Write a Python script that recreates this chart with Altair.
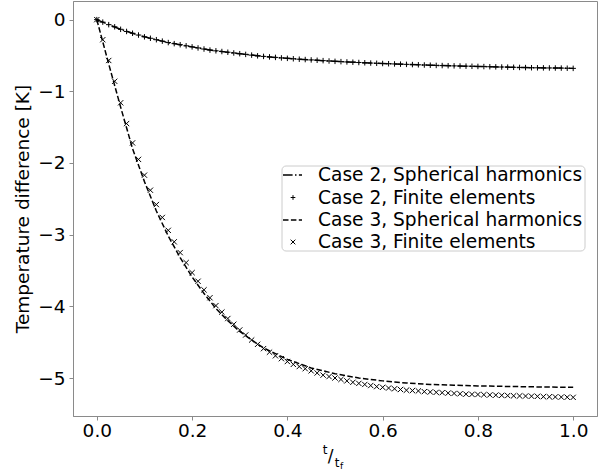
import altair as alt
import pandas as pd

# ---------------- data ----------------
t_fe = [0.0, 0.0125, 0.025, 0.0375, 0.05, 0.0625, 0.075, 0.0875, 0.1, 0.1125,
        0.125, 0.1375, 0.15, 0.1625, 0.175, 0.1875, 0.2, 0.2125, 0.225, 0.2375,
        0.25, 0.2625, 0.275, 0.2875, 0.3, 0.3125, 0.325, 0.3375, 0.35, 0.3625,
        0.375, 0.3875, 0.4, 0.4125, 0.425, 0.4375, 0.45, 0.4625, 0.475, 0.4875,
        0.5, 0.5125, 0.525, 0.5375, 0.55, 0.5625, 0.575, 0.5875, 0.6, 0.6125,
        0.625, 0.6375, 0.65, 0.6625, 0.675, 0.6875, 0.7, 0.7125, 0.725, 0.7375,
        0.75, 0.7625, 0.775, 0.7875, 0.8, 0.8125, 0.825, 0.8375, 0.85, 0.8625,
        0.875, 0.8875, 0.9, 0.9125, 0.925, 0.9375, 0.95, 0.9625, 0.975, 0.9875,
        1.0]

case2_fe = [0.0, -0.035, -0.07, -0.10, -0.135, -0.165, -0.19, -0.215, -0.24, -0.26,
            -0.28, -0.30, -0.32, -0.335, -0.35, -0.365, -0.38, -0.395, -0.41, -0.425,
            -0.435, -0.445, -0.455, -0.465, -0.475, -0.485, -0.495, -0.505, -0.513, -0.52,
            -0.527, -0.534, -0.54, -0.546, -0.552, -0.557, -0.562, -0.567, -0.572, -0.577,
            -0.582, -0.586, -0.59, -0.594, -0.598, -0.602, -0.606, -0.609, -0.612, -0.615,
            -0.618, -0.621, -0.624, -0.627, -0.63, -0.633, -0.636, -0.639, -0.641, -0.643,
            -0.645, -0.647, -0.649, -0.651, -0.653, -0.655, -0.657, -0.659, -0.661, -0.663,
            -0.665, -0.667, -0.669, -0.671, -0.672, -0.673, -0.674, -0.675, -0.676, -0.678,
            -0.68]

case3_fe = [0.0, -0.28, -0.57, -0.86, -1.16, -1.45, -1.72, -1.95, -2.17, -2.38,
            -2.58, -2.76, -2.94, -3.10, -3.25, -3.39, -3.53, -3.65, -3.77, -3.88,
            -3.99, -4.08, -4.17, -4.25, -4.33, -4.40, -4.47, -4.53, -4.59, -4.64,
            -4.69, -4.73, -4.77, -4.81, -4.84, -4.87, -4.90, -4.93, -4.96, -4.98,
            -5.00, -5.02, -5.04, -5.06, -5.075, -5.09, -5.105, -5.12, -5.13, -5.14,
            -5.15, -5.16, -5.17, -5.175, -5.18, -5.19, -5.195, -5.20, -5.205, -5.21,
            -5.215, -5.22, -5.225, -5.228, -5.23, -5.233, -5.236, -5.239, -5.242, -5.245,
            -5.248, -5.25, -5.252, -5.254, -5.256, -5.26, -5.262, -5.264, -5.266, -5.268,
            -5.27]

t_sh = [0.0, 0.025, 0.05, 0.075, 0.1, 0.125, 0.15, 0.175, 0.2, 0.225,
        0.25, 0.275, 0.3, 0.325, 0.35, 0.375, 0.4, 0.425, 0.45, 0.475,
        0.5, 0.525, 0.55, 0.575, 0.6, 0.625, 0.65, 0.675, 0.7, 0.725,
        0.75, 0.775, 0.8, 0.825, 0.85, 0.875, 0.9, 0.925, 0.95, 0.975,
        1.0]

case2_sh = [0.0, -0.07, -0.135, -0.19, -0.24, -0.28, -0.32, -0.35, -0.38, -0.41,
            -0.435, -0.455, -0.475, -0.495, -0.513, -0.527, -0.54, -0.552, -0.562, -0.572,
            -0.582, -0.59, -0.598, -0.606, -0.612, -0.618, -0.624, -0.63, -0.636, -0.641,
            -0.645, -0.649, -0.653, -0.657, -0.661, -0.665, -0.669, -0.672, -0.674, -0.676,
            -0.68]

case3_sh = [0.0, -0.62, -1.22, -1.80, -2.26, -2.67, -3.02, -3.32, -3.59, -3.82,
            -4.03, -4.20, -4.35, -4.47, -4.58, -4.66, -4.74, -4.80, -4.86, -4.90,
            -4.94, -4.97, -5.00, -5.02, -5.04, -5.055, -5.07, -5.08, -5.09, -5.095,
            -5.10, -5.105, -5.11, -5.113, -5.116, -5.119, -5.122, -5.124, -5.126, -5.128,
            -5.13]

legend_labels = ["Case 2, Spherical harmonics", "Case 2, Finite elements",
                 "Case 3, Spherical harmonics", "Case 3, Finite elements"]
x_ticks = [0.0, 0.2, 0.4, 0.6, 0.8, 1.0]
y_ticks = [-5, -4, -3, -2, -1, 0]
y_title = "Temperature difference [K]"

# ---------------- styling ----------------
FONT = "DejaVu Sans"
W, H = 524, 415
OX, OY = 73, 1
FRAME = "#8a8a8a"
DASHDOT = [9.6, 2.4, 1.5, 2.4]
DASHED = [5.5, 2.4]
PLUS = "M-1,0L1,0M0,-1L0,1"
CROSS = "M-1,-1L1,1M-1,1L1,-1"

sh = pd.DataFrame({"t": t_sh, "c2": case2_sh, "c3": case3_sh})
fe = pd.DataFrame({"t": t_fe, "c2": case2_fe, "c3": case3_fe})

xs = alt.Scale(domain=[-0.05, 1.05], nice=False, zero=False)
ys = alt.Scale(domain=[-5.53, 0.26], nice=False, zero=False)

xax = alt.Axis(values=x_ticks, format=".1f", title=None, grid=False,
               labelFont=FONT, labelFontSize=18.5, labelColor="black",
               tickColor=FRAME, domainColor=FRAME, tickSize=4, labelPadding=1,
               labelFlush=False)
yax = alt.Axis(values=y_ticks, format="d", title=y_title, grid=False,
               labelFont=FONT, labelFontSize=18.5, labelColor="black",
               tickColor=FRAME, domainColor=FRAME, tickSize=4, labelPadding=4,
               titleFont=FONT, titleFontSize=18.5, titleFontWeight="normal",
               titleColor="black", titlePadding=5)


def enc(field):
    return dict(x=alt.X("t:Q", scale=xs, axis=xax),
                y=alt.Y(f"{field}:Q", scale=ys, axis=yax))


line2 = alt.Chart(sh).mark_line(color="black", strokeWidth=1.5,
                                strokeDash=DASHDOT).encode(**enc("c2"))
pts2 = alt.Chart(fe).mark_point(shape=PLUS, filled=False, color="black",
                                strokeWidth=1, size=30, opacity=1).encode(**enc("c2"))
line3 = alt.Chart(sh).mark_line(color="black", strokeWidth=1.5,
                                strokeDash=DASHED).encode(**enc("c3"))
pts3 = alt.Chart(fe).mark_point(shape=CROSS, filled=False, color="black",
                                strokeWidth=1, size=28, opacity=1).encode(**enc("c3"))

one = alt.Data(values=[{"k": 0}])

# ---------------- legend (drawn by hand) ----------------
box = alt.Chart(one).mark_rect(fill="white", fillOpacity=0.8, stroke="#cccccc",
                               strokeWidth=1, cornerRadius=4).encode(
    x=alt.value(282 - OX), x2=alt.value(585 - OX),
    y=alt.value(166 - OY), y2=alt.value(251 - OY))

rows_y = [175, 197.5, 220, 242]
leg_layers = [box]
for i, lab in enumerate(legend_labels):
    yy = rows_y[i] - OY
    if i in (0, 2):
        leg_layers.append(
            alt.Chart(one).mark_rule(color="black", strokeWidth=1.5,
                                     strokeDash=DASHDOT if i == 0 else DASHED).encode(
                x=alt.value(283 - OX), x2=alt.value(302 - OX), y=alt.value(yy)))
    else:
        leg_layers.append(
            alt.Chart(one).mark_point(shape=PLUS if i == 1 else CROSS, filled=False,
                                      color="black", strokeWidth=1, size=22,
                                      opacity=1).encode(
                x=alt.value(293 - OX), y=alt.value(yy)))
    leg_layers.append(
        alt.Chart(one).mark_text(text=lab, align="left", baseline="middle",
                                 font=FONT, fontSize=18.6, color="black").encode(
            x=alt.value(318 - OX), y=alt.value(yy)))

# ---------------- x axis title  t/t_f ----------------
def txt(s, x, y, size):
    return alt.Chart(one).mark_text(text=s, align="center", baseline="alphabetic",
                                    font=FONT, fontSize=size, color="black").encode(
        x=alt.value(x - OX), y=alt.value(y - OY))

xlab = [txt("t", 325, 454, 12), txt("/", 330.5, 462, 17),
        txt("t", 337, 467, 12), txt("f", 341.5, 469, 9)]

chart = alt.layer(line2, pts2, line3, pts3, *leg_layers, *xlab).properties(
    width=W, height=H,
    padding={"left": OX, "top": OY, "right": 603 - OX - W, "bottom": 474 - OY - H},
    autosize=alt.AutoSizeParams(type="none"),
).configure_view(stroke=FRAME, strokeWidth=1)

chart.save("out.html", embed_options={"renderer": "svg", "actions": False})
